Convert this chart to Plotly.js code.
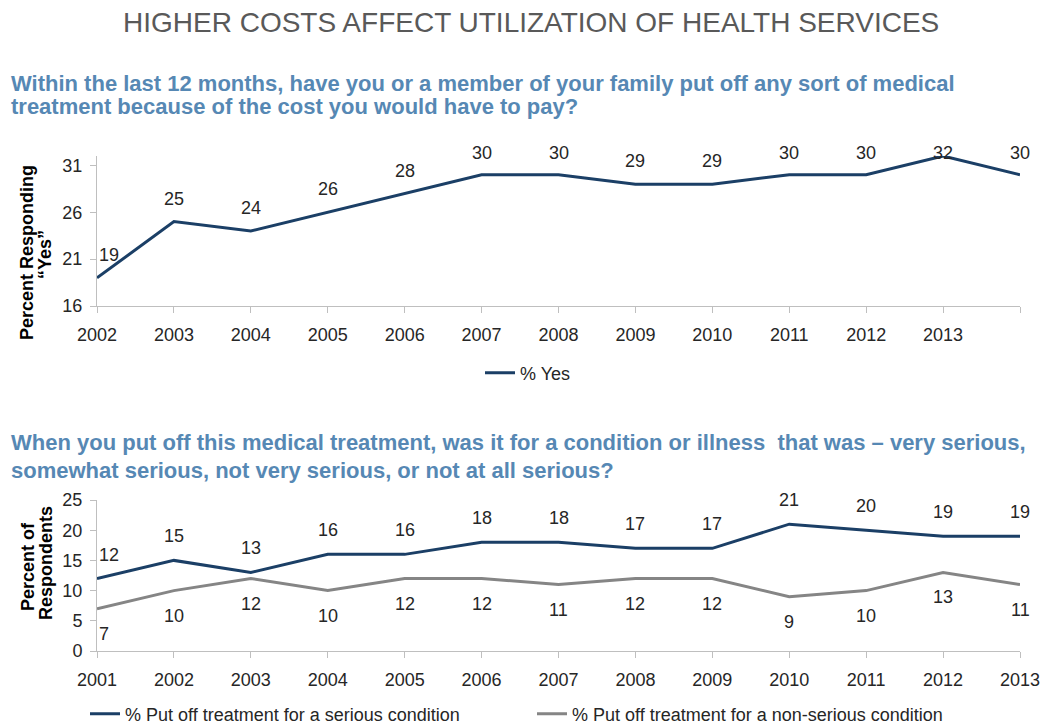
<!DOCTYPE html>
<html>
<head>
<meta charset="utf-8">
<script src="https://cdn.plot.ly/plotly-3.0.1.min.js"></script>
<style>html,body{margin:0;padding:0;background:#fff;}#chart{width:1050px;height:725px;}</style>
</head>
<body>
<div id="chart"></div>
<script>
// ---- data ----
const topYears = [2002, 2003, 2004, 2005, 2006, 2007, 2008, 2009, 2010, 2011, 2012, 2013, 2014];
const pctYes = [19, 25, 24, 26, 28, 30, 30, 29, 29, 30, 30, 32, 30];
const topTickLabels = ['2002','2003','2004','2005','2006','2007','2008','2009','2010','2011','2012','2013',''];
const topYTicks = [16, 21, 26, 31];

const bottomYears = [2001, 2002, 2003, 2004, 2005, 2006, 2007, 2008, 2009, 2010, 2011, 2012, 2013];
const seriousPct = [12, 15, 13, 16, 16, 18, 18, 17, 17, 21, 20, 19, 19];
const nonSeriousPct = [7, 10, 12, 10, 12, 12, 11, 12, 12, 9, 10, 13, 11];
const bottomTickLabels = bottomYears.map(String);
const bottomYTicks = [0, 5, 10, 15, 20, 25];

const seriesNames = {
  yes: '% Yes',
  serious: '% Put off treatment for a serious condition',
  nonSerious: '% Put off treatment for a non-serious condition'
};

// ---- style ----
const W = 1050, H = 725;
const darkBlue = '#1b3f66';
const gray = '#858585';
const subBlue = '#5688b4';
const textColor = '#262626';
const axisColor = '#bfbfbf';
const font = 'Liberation Sans, Arial, sans-serif';
const px = (p) => 1 - p / H; // pixel row -> paper fraction

const xDomain = [97 / W, 1020 / W];
const topRange = [16, 32];
const topDomain = [px(306), px(156)];
const botRange = [0, 25];
const botDomain = [px(651), px(500)];

const traces = [
  {x: topYears, y: pctYes, name: seriesNames.yes, type: 'scatter', mode: 'lines',
   line: {color: darkBlue, width: 3}, xaxis: 'x', yaxis: 'y', legend: 'legend'},
  {x: bottomYears, y: seriousPct, name: seriesNames.serious, type: 'scatter', mode: 'lines',
   line: {color: darkBlue, width: 3}, xaxis: 'x2', yaxis: 'y2', legend: 'legend2'},
  {x: bottomYears, y: nonSeriousPct, name: seriesNames.nonSerious, type: 'scatter', mode: 'lines',
   line: {color: gray, width: 3}, xaxis: 'x2', yaxis: 'y2', legend: 'legend3'}
];

const annotations = [];
function addLabels(xs, ys, xref, yref, shift, capShiftFn) {
  xs.forEach((xv, i) => {
    let s = shift;
    if (capShiftFn) s = capShiftFn(ys[i], s);
    annotations.push({
      x: xv, y: ys[i], xref: xref, yref: yref, text: String(ys[i]), showarrow: false,
      yshift: s, xanchor: i === 0 ? 'left' : 'center', yanchor: 'middle',
      font: {family: font, size: 18, color: textColor}
    });
  });
}
// top chart: labels above, kept within the chart area near top
const topPxPerUnit = (306 - 156) / (topRange[1] - topRange[0]);
const topCap = topRange[1] + 0.35;
addLabels(topYears, pctYes, 'x', 'y', 23, (v, s) => Math.min(s, (topCap - v) * topPxPerUnit));
addLabels(bottomYears, seriousPct, 'x2', 'y2', 24);
addLabels(bottomYears, nonSeriousPct, 'x2', 'y2', -25);

function paperText(text, xPix, yPix, size, color, opts) {
  return Object.assign({text: text, xref: 'paper', yref: 'paper', x: xPix / W, y: px(yPix),
    xanchor: 'left', yanchor: 'middle', showarrow: false,
    font: {family: font, size: size, color: color}}, opts || {});
}
const bold = (size, color) => ({family: font, size: size, color: color, weight: 'bold'});

annotations.push(
  paperText('HIGHER COSTS AFFECT UTILIZATION OF HEALTH SERVICES', 531, 22, 28, '#595959', {xanchor: 'center'}),
  paperText('Within the last 12 months, have you or a member of your family put off any sort of medical', 9, 84, 22, subBlue, {font: bold(22, subBlue)}),
  paperText('treatment because of the cost you would have to pay?', 9, 107, 22, subBlue, {font: bold(22, subBlue)}),
  paperText('When you put off this medical treatment, was it for a condition or illness  that was \u2013 very serious,', 9, 442, 22, subBlue, {font: bold(22, subBlue)}),
  paperText('somewhat serious, not very serious, or not at all serious?', 9, 470, 22, subBlue, {font: bold(22, subBlue)}),
  // y-axis titles (rotated)
  paperText('Percent Responding', 27, 253, 18, '#000', {xanchor: 'center', textangle: -90, font: bold(18, '#000')}),
  paperText('\u201cYes\u201d', 45, 255, 18, '#000', {xanchor: 'center', textangle: -90, font: bold(18, '#000')}),
  paperText('Percent of', 28, 567, 18, '#000', {xanchor: 'center', textangle: -90, font: bold(18, '#000')}),
  paperText('Respondents', 46, 563, 18, '#000', {xanchor: 'center', textangle: -90, font: bold(18, '#000')})
);

const axisCommon = {
  showgrid: false, zeroline: false, showline: true, linecolor: axisColor, linewidth: 1,
  ticks: 'outside', ticklen: 6, tickcolor: axisColor, tickwidth: 1,
  tickfont: {family: font, size: 18, color: textColor}, fixedrange: true
};

const layout = {
  width: W, height: H,
  margin: {l: 0, r: 0, t: 0, b: 0, pad: 0, autoexpand: false},
  paper_bgcolor: '#ffffff', plot_bgcolor: '#ffffff',
  font: {family: font, color: textColor},
  showlegend: true,
  xaxis: Object.assign({}, axisCommon, {domain: xDomain, anchor: 'y', range: [topYears[0], topYears[topYears.length - 1]],
    tickmode: 'array', tickvals: topYears, ticktext: topTickLabels, ticklabelstandoff: 6}),
  yaxis: Object.assign({}, axisCommon, {domain: topDomain, anchor: 'x', range: topRange,
    tickmode: 'array', tickvals: topYTicks, ticklabelstandoff: 4}),
  xaxis2: Object.assign({}, axisCommon, {domain: xDomain, anchor: 'y2', range: [bottomYears[0], bottomYears[bottomYears.length - 1]],
    tickmode: 'array', tickvals: bottomYears, ticktext: bottomTickLabels, ticklabelstandoff: 6}),
  yaxis2: Object.assign({}, axisCommon, {domain: botDomain, anchor: 'x2', range: botRange,
    tickmode: 'array', tickvals: bottomYTicks, ticklabelstandoff: 4}),
  legend: {x: 480 / W, y: px(373), xanchor: 'left', yanchor: 'middle', orientation: 'h',
    font: {family: font, size: 18, color: textColor}, bgcolor: 'rgba(0,0,0,0)'},
  legend2: {x: 85 / W, y: px(714), xanchor: 'left', yanchor: 'middle', orientation: 'h',
    font: {family: font, size: 18, color: textColor}, bgcolor: 'rgba(0,0,0,0)'},
  legend3: {x: 532 / W, y: px(714), xanchor: 'left', yanchor: 'middle', orientation: 'h',
    font: {family: font, size: 18, color: textColor}, bgcolor: 'rgba(0,0,0,0)'},
  annotations: annotations
};

Plotly.newPlot('chart', traces, layout, {displayModeBar: false, staticPlot: true});
</script>
</body>
</html>
